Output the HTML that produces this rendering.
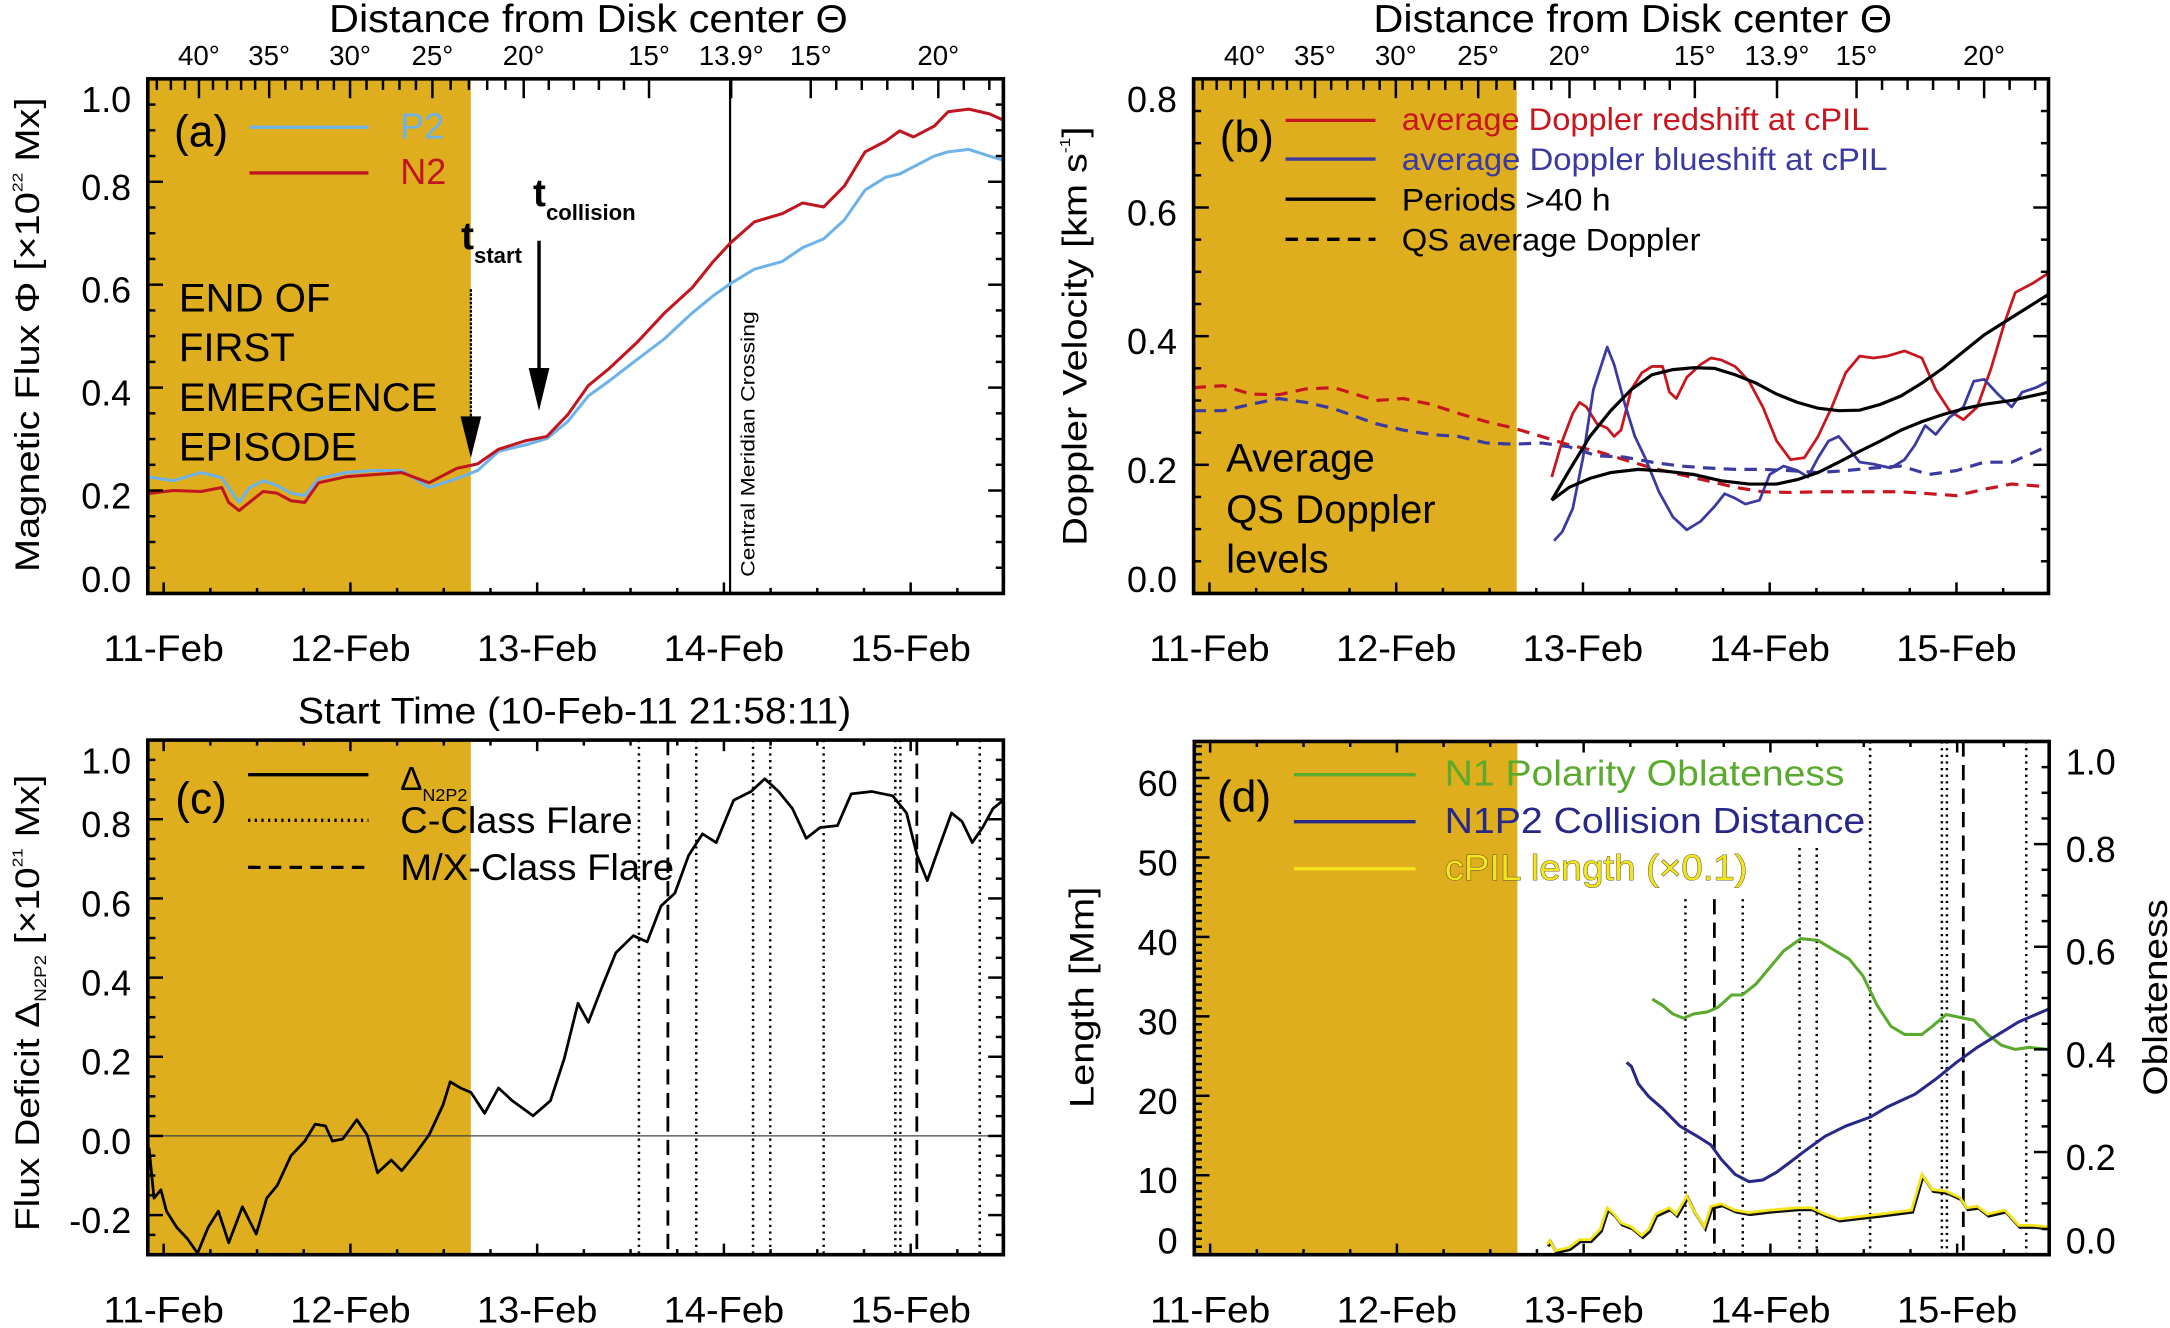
<!DOCTYPE html>
<html><head><meta charset="utf-8"><title>Flux chart</title>
<style>
html,body{margin:0;padding:0;background:#fff;}
svg{display:block;}
text{font-family:"Liberation Sans Narrow","Liberation Sans",sans-serif;fill:#000;}
.w{font-family:"Liberation Sans",sans-serif;}
</style></head>
<body>
<svg id="fig" xmlns="http://www.w3.org/2000/svg" width="2170" height="1328" viewBox="0 0 1568 960">
<g id="layer-bg"></g>
<g id="layer-data"></g>
<g id="layer-axes"></g>
<g id="layer-text">
  <text x="425" y="23" font-size="28" text-anchor="middle" textLength="375" lengthAdjust="spacingAndGlyphs">Distance from Disk center Θ</text>
  <text x="1180" y="23" font-size="28" text-anchor="middle" textLength="375" lengthAdjust="spacingAndGlyphs">Distance from Disk center Θ</text>
  <text x="415" y="523" font-size="27" text-anchor="middle" textLength="400" lengthAdjust="spacingAndGlyphs">Start Time (10-Feb-11 21:58:11)</text>

  <text class="w" transform="translate(28,242) rotate(-90)" font-size="25" text-anchor="middle" textLength="343" lengthAdjust="spacingAndGlyphs">Magnetic Flux Φ [×10<tspan font-size="11" dy="-12">22</tspan><tspan dy="12"> Mx]</tspan></text>
  <text class="w" transform="translate(785,243) rotate(-90)" font-size="25" text-anchor="middle" textLength="303" lengthAdjust="spacingAndGlyphs">Doppler Velocity [km s<tspan font-size="11" dy="-12">-1</tspan><tspan dy="12">]</tspan></text>
  <text class="w" transform="translate(28,725) rotate(-90)" font-size="25" text-anchor="middle" textLength="330" lengthAdjust="spacingAndGlyphs">Flux Deficit Δ<tspan font-size="12" dy="5">N2P2</tspan><tspan dy="-5"> [×10</tspan><tspan font-size="11" dy="-12">21</tspan><tspan dy="12"> Mx]</tspan></text>
  <text class="w" transform="translate(790,721) rotate(-90)" font-size="25" text-anchor="middle" textLength="160" lengthAdjust="spacingAndGlyphs">Length [Mm]</text>
  <text class="w" transform="translate(1566,721) rotate(-90)" font-size="25" text-anchor="middle" textLength="142" lengthAdjust="spacingAndGlyphs">Oblateness</text>

  <text x="145" y="106" font-size="32" text-anchor="middle">(a)</text>
  <text x="289" y="100" font-size="26" style="fill:#6db3ea">P2</text>
  <text x="289" y="133" font-size="26" style="fill:#c0161f">N2</text>
  <text x="129" y="225" font-size="29">END OF</text>
  <text x="129" y="261" font-size="29">FIRST</text>
  <text x="129" y="297" font-size="29">EMERGENCE</text>
  <text x="129" y="333" font-size="29">EPISODE</text>
  <text class="w" x="333" y="180" font-size="28" font-weight="bold">t<tspan font-size="16" dy="10">start</tspan></text>
  <text class="w" x="385" y="149" font-size="28" font-weight="bold">t<tspan font-size="16" dy="10">collision</tspan></text>
  <text class="w" transform="translate(545,417) rotate(-90)" font-size="14" textLength="192" lengthAdjust="spacingAndGlyphs">Central Meridian Crossing</text>

  <text x="901" y="110" font-size="32" text-anchor="middle">(b)</text>
  <text x="1013" y="94" font-size="23" style="fill:#c8161e" textLength="338" lengthAdjust="spacingAndGlyphs">average Doppler redshift at cPIL</text>
  <text x="1013" y="123" font-size="23" style="fill:#3a3aa0" textLength="351" lengthAdjust="spacingAndGlyphs">average Doppler blueshift at cPIL</text>
  <text x="1013" y="152" font-size="23" textLength="151" lengthAdjust="spacingAndGlyphs">Periods &gt;40 h</text>
  <text x="1013" y="181" font-size="23" textLength="216" lengthAdjust="spacingAndGlyphs">QS average Doppler</text>
  <text x="886" y="341" font-size="29">Average</text>
  <text x="886" y="378" font-size="29">QS Doppler</text>
  <text x="886" y="414" font-size="29">levels</text>

  <text x="145" y="588" font-size="32" text-anchor="middle">(c)</text>
  <text x="289" y="571" font-size="24">Δ<tspan font-size="13" dy="8">N2P2</tspan></text>
  <text x="289" y="602" font-size="27" textLength="168" lengthAdjust="spacingAndGlyphs">C-Class Flare</text>
  <text x="289" y="636" font-size="27" textLength="198" lengthAdjust="spacingAndGlyphs">M/X-Class Flare</text>

  <text x="899" y="587" font-size="32" text-anchor="middle">(d)</text>
  <text x="1044" y="568" font-size="26" style="fill:#5aaa2e" textLength="289" lengthAdjust="spacingAndGlyphs">N1 Polarity Oblateness</text>
  <text x="1044" y="602" font-size="26" style="fill:#282888" textLength="304" lengthAdjust="spacingAndGlyphs">N1P2 Collision Distance</text>
  <text x="1044" y="636" font-size="26" style="fill:#f4e41a;stroke:#333;stroke-width:0.6;paint-order:stroke" textLength="219" lengthAdjust="spacingAndGlyphs">cPIL length (×0.1)</text>
</g>
</svg>
<script>
// ---------- Data ----------
const dateLabels = ['11-Feb','12-Feb','13-Feb','14-Feb','15-Feb'];
const dateDays = [11,12,13,14,15];
const degLabels = ['40°','35°','30°','25°','20°','15°','13.9°','15°','20°'];
const degValues = [40,35,30,25,20,15,13.9,15,20];
const degDays = [11.189,11.565,11.998,12.439,12.928,13.599,14.039,14.465,15.148];
const shadeEndDay = 12.645;
const meridianDay = 14.033;

const aDays = [10.915,11.052,11.2,11.311,11.348,11.404,11.459,11.533,11.607,11.682,11.756,11.83,11.978,12.126,12.274,12.422,12.57,12.682,12.793,12.941,13.052,13.163,13.274,13.385,13.533,13.682,13.83,13.941,14.034,14.163,14.311,14.422,14.534,14.645,14.756,14.867,14.941,15.015,15.126,15.2,15.311,15.422,15.496];
const aN2 = [0.194,0.20,0.198,0.206,0.177,0.161,0.177,0.198,0.195,0.18,0.177,0.215,0.227,0.231,0.235,0.215,0.243,0.252,0.28,0.297,0.305,0.347,0.404,0.437,0.487,0.545,0.594,0.644,0.681,0.722,0.738,0.759,0.751,0.792,0.858,0.879,0.899,0.887,0.908,0.936,0.941,0.932,0.92];
const aP2 = [0.227,0.219,0.235,0.225,0.205,0.177,0.205,0.219,0.21,0.195,0.19,0.223,0.235,0.239,0.239,0.206,0.223,0.239,0.276,0.289,0.301,0.334,0.384,0.413,0.454,0.495,0.545,0.578,0.602,0.63,0.645,0.672,0.689,0.726,0.784,0.809,0.815,0.829,0.85,0.858,0.863,0.85,0.842];
const tStartDay = 12.645;
const tCollisionDay = 13.01;

const qsDays = [10.915,11.074,11.222,11.371,11.519,11.667,11.889,12.037,12.185,12.333,12.482,12.630,12.778,12.926,13.074,13.222,13.370,13.519,13.667,13.815,13.963,14.111,14.259,14.407,14.556,14.704,14.852,15.000,15.148,15.296,15.482];
const qsRed = [0.320,0.323,0.310,0.309,0.318,0.320,0.300,0.303,0.294,0.280,0.267,0.257,0.244,0.231,0.221,0.208,0.195,0.185,0.175,0.165,0.158,0.157,0.158,0.158,0.158,0.158,0.155,0.152,0.162,0.170,0.166];
const qsBlue = [0.284,0.284,0.294,0.303,0.297,0.287,0.264,0.254,0.247,0.244,0.234,0.232,0.234,0.228,0.214,0.212,0.204,0.198,0.195,0.193,0.193,0.191,0.188,0.191,0.195,0.198,0.185,0.191,0.204,0.204,0.228];
const redDays = [12.833,12.889,12.945,12.982,13.019,13.074,13.130,13.167,13.204,13.259,13.315,13.370,13.426,13.463,13.500,13.556,13.630,13.685,13.741,13.815,13.889,13.963,14.037,14.111,14.185,14.259,14.333,14.407,14.482,14.556,14.630,14.722,14.815,14.889,14.963,15.037,15.111,15.185,15.259,15.315,15.407,15.493];
const redVals = [0.181,0.237,0.280,0.297,0.290,0.264,0.257,0.244,0.254,0.317,0.343,0.353,0.353,0.313,0.303,0.336,0.356,0.366,0.363,0.353,0.330,0.290,0.237,0.208,0.211,0.244,0.290,0.343,0.369,0.366,0.369,0.377,0.366,0.317,0.284,0.270,0.290,0.350,0.422,0.468,0.482,0.498];
const blueDays = [12.845,12.889,12.945,13.000,13.056,13.093,13.130,13.167,13.222,13.278,13.333,13.407,13.482,13.556,13.630,13.704,13.759,13.815,13.870,13.945,14.000,14.074,14.148,14.204,14.259,14.315,14.370,14.426,14.482,14.556,14.648,14.722,14.778,14.833,14.889,14.963,15.037,15.093,15.148,15.222,15.296,15.352,15.426,15.493];
const blueVals = [0.082,0.096,0.132,0.211,0.317,0.350,0.383,0.356,0.297,0.244,0.211,0.158,0.119,0.099,0.112,0.135,0.155,0.148,0.139,0.145,0.185,0.198,0.191,0.181,0.211,0.237,0.244,0.224,0.204,0.201,0.195,0.208,0.231,0.261,0.247,0.274,0.290,0.330,0.333,0.310,0.290,0.313,0.320,0.330];
const fitUpDays = [12.833,12.926,13.037,13.148,13.259,13.370,13.482,13.593,13.704,13.815,13.926,14.037,14.148,14.259,14.370,14.482,14.593,14.704,14.815,14.926,15.037,15.148,15.296,15.493];
const fitUpVals = [0.145,0.191,0.244,0.284,0.317,0.340,0.348,0.351,0.350,0.340,0.327,0.310,0.297,0.288,0.284,0.285,0.294,0.307,0.327,0.350,0.376,0.402,0.429,0.465];
const fitLoDays = [12.833,12.926,13.037,13.148,13.296,13.444,13.593,13.741,13.889,14.037,14.148,14.259,14.370,14.482,14.593,14.704,14.815,14.926,15.037,15.148,15.296,15.493];
const fitLoVals = [0.145,0.165,0.179,0.188,0.193,0.190,0.185,0.175,0.170,0.170,0.177,0.188,0.204,0.221,0.237,0.254,0.267,0.278,0.287,0.294,0.300,0.313];

const cDays = [10.922,10.948,10.985,11.015,11.071,11.126,11.182,11.237,11.293,11.348,11.422,11.496,11.552,11.608,11.682,11.756,11.811,11.867,11.904,11.959,12.034,12.089,12.145,12.219,12.274,12.348,12.422,12.496,12.534,12.589,12.645,12.719,12.793,12.867,12.978,13.071,13.145,13.219,13.274,13.348,13.422,13.515,13.589,13.663,13.737,13.811,13.885,13.959,14.052,14.145,14.219,14.293,14.367,14.441,14.515,14.608,14.682,14.793,14.904,14.978,15.034,15.089,15.145,15.219,15.274,15.330,15.385,15.441,15.496];
const cDelta = [-0.03,-0.157,-0.136,-0.19,-0.232,-0.259,-0.296,-0.232,-0.19,-0.27,-0.179,-0.248,-0.157,-0.125,-0.05,-0.013,0.03,0.025,-0.013,-0.008,0.041,0.003,-0.093,-0.061,-0.088,-0.045,0.003,0.078,0.137,0.121,0.11,0.057,0.121,0.089,0.051,0.089,0.196,0.335,0.287,0.378,0.463,0.506,0.49,0.581,0.613,0.709,0.763,0.741,0.848,0.87,0.902,0.87,0.827,0.752,0.779,0.784,0.864,0.87,0.859,0.816,0.709,0.645,0.72,0.816,0.795,0.741,0.779,0.827,0.848];
const cFlareDays = [13.545,13.852,14.156,14.248,14.534,14.918,14.945,15.37];
const mxFlareDays = [13.70,15.033];

const oblDays = [13.367,13.422,13.478,13.534,13.589,13.663,13.719,13.793,13.848,13.922,13.996,14.071,14.163,14.256,14.330,14.422,14.496,14.571,14.645,14.719,14.811,14.867,14.941,15.034,15.089,15.163,15.237,15.311,15.385,15.489];
const oblVals = [0.498,0.486,0.469,0.461,0.469,0.473,0.482,0.506,0.506,0.527,0.559,0.592,0.616,0.612,0.596,0.576,0.543,0.486,0.445,0.429,0.429,0.445,0.468,0.461,0.457,0.429,0.408,0.4,0.404,0.4];
const distDays = [13.230,13.256,13.293,13.348,13.422,13.515,13.608,13.682,13.737,13.811,13.885,13.959,14.034,14.108,14.182,14.293,14.404,14.534,14.626,14.774,14.885,14.996,15.108,15.219,15.330,15.489];
const distVals = [24.2,23.7,21.5,19.9,18.4,16.2,14.9,13.8,12.0,10.1,9.2,9.4,10.4,11.7,13.0,14.9,16.2,17.3,18.6,20.2,22.1,24.2,26.1,27.7,29.3,30.9];
const pilDays = [12.804,12.819,12.848,12.922,12.978,13.034,13.089,13.126,13.163,13.200,13.256,13.311,13.348,13.385,13.459,13.496,13.552,13.589,13.645,13.682,13.737,13.811,13.885,13.996,14.145,14.219,14.293,14.367,14.478,14.589,14.756,14.811,14.867,14.941,15.015,15.052,15.108,15.163,15.256,15.330,15.404,15.489];
const pilVals = [1.3,1.8,0.5,0.9,1.9,1.9,3.2,5.9,5.1,4.0,3.5,2.4,3.2,5.1,5.9,5.1,7.4,5.6,3.5,6.1,6.4,5.6,5.3,5.6,5.9,5.9,5.1,4.5,4.8,5.1,5.6,10.1,8.2,8.0,7.2,5.9,6.1,5.1,5.6,3.7,3.7,3.5];

// ---------- Layout ----------
const NS = 'http://www.w3.org/2000/svg';
const PA = {L:106.5,R:725,T:57,B:429,y0:0,y1:1};
const PB = {L:862.5,R:1480.5,T:57,B:429,y0:0,y1:0.8};
const PC = {L:106.5,R:725,T:535,B:907,y0:-0.3,y1:1.0};
const PD = {L:863,R:1481,T:536,B:907,y0:0,y1:64.6};
const PDR = {L:863,R:1481,T:536,B:907,y0:0,y1:1};
const DAY0 = 10.915, PXDAY = 135;
function sx(P,d){return P.L+(d-DAY0)*PXDAY;}
function sy(P,v){return P.B-(v-P.y0)/(P.y1-P.y0)*(P.B-P.T);}
function mk(tag,attrs,parent){const e=document.createElementNS(NS,tag);for(const k in attrs)e.setAttribute(k,attrs[k]);parent.appendChild(e);return e;}
const gBg=document.getElementById('layer-bg'), gData=document.getElementById('layer-data'), gAx=document.getElementById('layer-axes');

function pts(P,days,vals){const out=[];for(let i=0;i<days.length;i++){let v=Math.max(P.y0,Math.min(P.y1,vals[i]));out.push(sx(P,days[i]).toFixed(1)+','+sy(P,v).toFixed(1));}return out.join(' ');}

[['a',PA],['b',PB],['c',PC],['d',PD]].forEach(([n,P])=>{
  const r=mk('rect',{x:P.L,y:P.T,width:sx(P,shadeEndDay)-P.L,height:P.B-P.T,fill:'#dfae1e'},gBg);
  
  
});

let e;
e=mk('line',{x1:sx(PA,meridianDay),x2:sx(PA,meridianDay),y1:PA.T,y2:PA.B,stroke:'#000','stroke-width':1.6},gData);


e=mk('polyline',{points:pts(PA,aDays,aP2),fill:'none',stroke:'#6db3ea','stroke-width':2.2,'stroke-linejoin':'round'},gData);


e=mk('polyline',{points:pts(PA,aDays,aN2),fill:'none',stroke:'#c0161f','stroke-width':2.2,'stroke-linejoin':'round'},gData);


const xs=sx(PA,tStartDay), xc=sx(PA,tCollisionDay);
e=mk('line',{x1:xs,x2:xs,y1:209,y2:303,stroke:'#000','stroke-width':1.6,'stroke-dasharray':'2 1'},gData);


e=mk('polygon',{points:(xs-7.5)+',301 '+(xs+7.5)+',301 '+xs+',331',fill:'#000'},gData);


e=mk('line',{x1:xc,x2:xc,y1:174,y2:268,stroke:'#000','stroke-width':2.5},gData);


e=mk('polygon',{points:(xc-7.5)+',266 '+(xc+7.5)+',266 '+xc+',297',fill:'#000'},gData);



e=mk('polyline',{points:pts(PB,qsDays,qsRed),fill:'none',stroke:'#c8161e','stroke-width':2.3,'stroke-dasharray':'9 6'},gData);


e=mk('polyline',{points:pts(PB,qsDays,qsBlue),fill:'none',stroke:'#3a3aa0','stroke-width':2.3,'stroke-dasharray':'9 6'},gData);


e=mk('polyline',{points:pts(PB,redDays,redVals),fill:'none',stroke:'#c8161e','stroke-width':2,'stroke-linejoin':'round'},gData);


e=mk('polyline',{points:pts(PB,blueDays,blueVals),fill:'none',stroke:'#3a3aa0','stroke-width':2,'stroke-linejoin':'round'},gData);


e=mk('polyline',{points:pts(PB,fitUpDays,fitUpVals),fill:'none',stroke:'#000','stroke-width':2.3},gData);


e=mk('polyline',{points:pts(PB,fitLoDays,fitLoVals),fill:'none',stroke:'#000','stroke-width':2.3},gData);



e=mk('line',{x1:PC.L,x2:PC.R,y1:sy(PC,0),y2:sy(PC,0),stroke:'#444','stroke-width':0.9},gData);


cFlareDays.forEach(d=>{
  const l=mk('line',{x1:sx(PC,d),x2:sx(PC,d),y1:PC.T,y2:PC.B,stroke:'#000','stroke-width':1.8,'stroke-dasharray':'1.6 3.2'},gData);
  
  
});
mxFlareDays.forEach(d=>{
  const l=mk('line',{x1:sx(PC,d),x2:sx(PC,d),y1:PC.T,y2:PC.B,stroke:'#000','stroke-width':2,'stroke-dasharray':'11 6'},gData);
  
  
});
e=mk('polyline',{points:pts(PC,cDays,cDelta),fill:'none',stroke:'#000','stroke-width':2,'stroke-linejoin':'round'},gData);



function dTop(d){const x=sx(PD,d); if(x<1200) return PD.T; if(x<1290) return 650; if(x<1340) return 613; return PD.T;}
cFlareDays.forEach(d=>{
  const l=mk('line',{x1:sx(PD,d),x2:sx(PD,d),y1:dTop(d),y2:PD.B,stroke:'#000','stroke-width':1.8,'stroke-dasharray':'1.6 3.2'},gData);
  
  
});
mxFlareDays.forEach(d=>{
  const l=mk('line',{x1:sx(PD,d),x2:sx(PD,d),y1:dTop(d),y2:PD.B,stroke:'#000','stroke-width':2,'stroke-dasharray':'11 6'},gData);
  
  
});
e=mk('polyline',{points:pts(PDR,oblDays,oblVals),fill:'none',stroke:'#5aaa2e','stroke-width':2.2},gData);


e=mk('polyline',{points:pts(PD,distDays,distVals),fill:'none',stroke:'#282888','stroke-width':2.2},gData);


e=mk('polyline',{points:pts(PD,pilDays,pilVals),fill:'none',stroke:'#111','stroke-width':2.2,transform:'translate(0.8,1.4)'},gData);


e=mk('polyline',{points:pts(PD,pilDays,pilVals),fill:'none',stroke:'#f4e41a','stroke-width':2},gData);



const legends=[
 [180,266,92,'#6db3ea',null,'legend-swatch-p2'],[180,266,125,'#c0161f',null,'legend-swatch-n2'],
 [929,994,87,'#c8161e',null,'legend-swatch-redshift'],[929,994,115,'#3a3aa0',null,'legend-swatch-blueshift'],
 [929,994,144,'#000',null,'legend-swatch-periods'],[929,994,173,'#000','9 6','legend-swatch-qs'],
 [179,266,560,'#000',null,'legend-swatch-delta'],[179,266,593,'#000','1.6 3.2','legend-swatch-c-flare'],[179,266,627,'#000','9 6','legend-swatch-mx-flare'],
 [935,1023,560,'#5aaa2e',null,'legend-swatch-oblateness'],[935,1023,594,'#282888',null,'legend-swatch-collision'],[935,1023,628,'#f4e41a',null,'legend-swatch-cpil']];
legends.forEach(([x1,x2,y,c,da,n])=>{
  const l=mk('line',{x1:x1,x2:x2,y1:y,y2:y,stroke:c,'stroke-width':2.4},gData);
  if(da) l.setAttribute('stroke-dasharray',da);
  
  
});

function tick(x1,y1,x2,y2){const t=mk('line',{x1:x1,y1:y1,x2:x2,y2:y2,stroke:'#000','stroke-width':1.8},gAx);
  
  }
function label(x,y,s,anchor,size,name,len){const t=mk('text',{x:x,y:y,'font-size':size,'text-anchor':anchor},gAx);t.textContent=s;
  if(len){t.setAttribute('textLength',len);t.setAttribute('lengthAdjust','spacingAndGlyphs');}
  
  }
function frame(P,n){const r=mk('rect',{x:P.L,y:P.T,width:P.R-P.L,height:P.B-P.T,fill:'none',stroke:'#000','stroke-width':2.6},gAx);
  
  }
function dateAxis(P,n,top){
  for(let q=11*4;q<=15.5*4;q++){const d=q/4;const x=sx(P,d);if(x>P.R)break;const maj=(q%4===0);
    const L=maj?8:4; tick(x,P.B,x,P.B-L); if(top) tick(x,P.T,x,P.T+L);}
  dateDays.forEach((d,i)=>label(sx(P,d),P.B+49,dateLabels[i],'middle',27,'x-tick-label-'+n,87));
}
function degAxis(P,n){
  degDays.forEach((d,i)=>{const x=sx(P,d);tick(x,P.T,x,P.T+14);label(x,P.T-10,degLabels[i],'middle',20,'top-tick-label-'+n);
    if(i<degDays.length-1){const a=degValues[i],b=degValues[i+1],steps=Math.round(Math.abs(b-a));
      for(let k=1;k<steps;k++){const xm=x+(sx(P,degDays[i+1])-x)*k/Math.abs(b-a);tick(xm,P.T,xm,P.T+8);}}});
  const w0=(sx(P,degDays[1])-sx(P,degDays[0]))/5;for(let k=1;k<5;k++){const xm=sx(P,degDays[0])-w0*k;if(xm>P.L)tick(xm,P.T,xm,P.T+8);}
  const n1=degDays.length-1,w1=(sx(P,degDays[n1])-sx(P,degDays[n1-1]))/5;for(let k=1;k<5;k++){const xm=sx(P,degDays[n1])+w1*k;if(xm<P.R)tick(xm,P.T,xm,P.T+8);}
}
function yAxis(P,n,major,minor,dec,side,both){
  const N=Math.round((P.y1-P.y0)/minor+1e-6);
  for(let i=0;i<=N+1;i++){const v=P.y0+i*minor; if(v>P.y1+1e-9)break; const y=sy(P,v);
    const isMaj=Math.abs(v/major-Math.round(v/major))<1e-6; const L=isMaj?11:5.5;
    if(side==='left'||both) tick(P.L,y,P.L+L,y); if(side==='right'||both) tick(P.R,y,P.R-L,y);
    if(isMaj){let cy=y+4; if(y-P.T<12) cy=P.T+15; if(P.B-y<12) cy=P.B-10;
      const s=v.toFixed(dec);
      if(side==='left') label(P.L-12,cy+9,s,'end',26,'y-tick-label-'+n); else label(P.R+12,cy+9,s,'start',26,'y-tick-label-'+n);}
  }
}
frame(PA,'a');frame(PB,'b');frame(PC,'c');frame(PD,'d');
dateAxis(PA,'a',false);degAxis(PA,'a');yAxis(PA,'a',0.2,0.05,1,'left',true);
dateAxis(PB,'b',false);degAxis(PB,'b');yAxis(PB,'b',0.2,0.05,1,'left',true);
dateAxis(PC,'c',true);yAxis(PC,'c',0.2,0.05,1,'left',true);
dateAxis(PD,'d',true);yAxis(PD,'d-left',10,1,0,'left',false);yAxis(PDR,'d-right',0.2,0.05,1,'right',false);
</script>
</body></html>
